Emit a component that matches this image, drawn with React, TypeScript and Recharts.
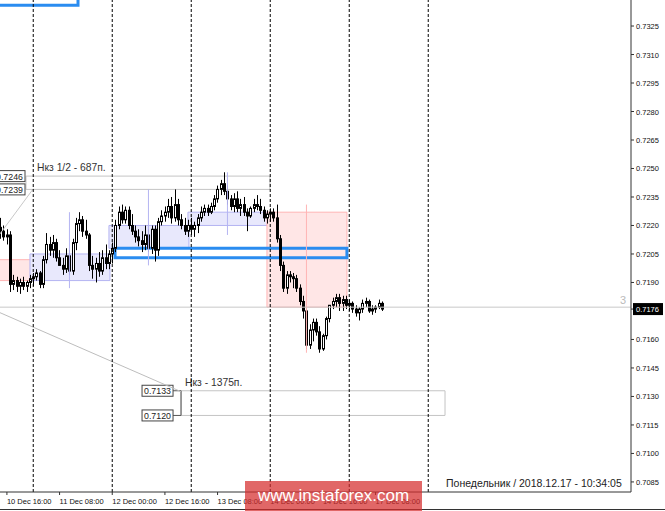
import React from 'react';
import { ComposedChart, Bar, XAxis, YAxis, ReferenceArea, ReferenceLine } from 'recharts';

// AUDUSD H1, bar 0 = 10 Dec 14:00, last bar = 17 Dec 10:00 (weekend skipped)
const opens = [
  0.7219, 0.7217, 0.7214, 0.7215, 0.7189, 0.7191, 0.7188, 0.7190, 0.7188, 0.7190,
  0.7192, 0.7193, 0.7195, 0.7189, 0.7202, 0.7210, 0.7207, 0.7211, 0.7203, 0.7199,
  0.7197, 0.7204, 0.7196, 0.7211, 0.7221, 0.7223, 0.7217, 0.7215, 0.7199, 0.7197,
  0.7200, 0.7196, 0.7203, 0.7200,
  0.7205, 0.7208, 0.7220, 0.7227, 0.7223, 0.7228, 0.7220, 0.7217, 0.7214, 0.7212,
  0.7210, 0.7215, 0.7208, 0.7218, 0.7207, 0.7222, 0.7225, 0.7227, 0.7230, 0.7224,
  0.7231, 0.7223, 0.7220, 0.7217,
  0.7220, 0.7218, 0.7220, 0.7224, 0.7227, 0.7229, 0.7227, 0.7230, 0.7234, 0.7239,
  0.7242, 0.7238, 0.7234, 0.7230, 0.7234, 0.7229, 0.7231, 0.7227, 0.7225, 0.7229,
  0.7231, 0.7230, 0.7228, 0.7224,
  0.7226, 0.7227, 0.7224, 0.7213, 0.7199, 0.7187, 0.7194, 0.7193, 0.7192, 0.7187,
  0.7180, 0.7175, 0.7157, 0.7165, 0.7169, 0.7164, 0.7155, 0.7162, 0.7171, 0.7178,
  0.7180, 0.7182, 0.7179, 0.7181,
  0.7178, 0.7179, 0.7176, 0.7174, 0.7176, 0.7179, 0.7180, 0.7175, 0.7176, 0.7177, 0.7179,
];
const highs = [
  0.7224, 0.7220, 0.7218, 0.7217, 0.7194, 0.7193, 0.7192, 0.7193, 0.7191, 0.7194,
  0.7195, 0.7197, 0.7196, 0.7204, 0.7216, 0.7214, 0.7215, 0.7213, 0.7207, 0.7203,
  0.7208, 0.7207, 0.7213, 0.7224, 0.7227, 0.7225, 0.7223, 0.7216, 0.7204, 0.7203,
  0.7206, 0.7207, 0.7210, 0.7207,
  0.7211, 0.7223, 0.7230, 0.7231, 0.7230, 0.7230, 0.7226, 0.7220, 0.7218, 0.7217,
  0.7220, 0.7218, 0.7220, 0.7220, 0.7224, 0.7228, 0.7230, 0.7234, 0.7235, 0.7239,
  0.7234, 0.7226, 0.7224, 0.7223,
  0.7224, 0.7222, 0.7226, 0.7230, 0.7231, 0.7231, 0.7232, 0.7236, 0.7241, 0.7244,
  0.7248, 0.7241, 0.7236, 0.7237, 0.7238, 0.7234, 0.7235, 0.7229, 0.7230, 0.7234,
  0.7236, 0.7234, 0.7230, 0.7228,
  0.7229, 0.7229, 0.7231, 0.7215, 0.7201, 0.7196, 0.7196, 0.7195, 0.7194, 0.7189,
  0.7183, 0.7177, 0.7168, 0.7171, 0.7171, 0.7167, 0.7163, 0.7172, 0.7178, 0.7182,
  0.7184, 0.7184, 0.7183, 0.7183,
  0.7181, 0.7180, 0.7178, 0.7177, 0.7181, 0.7182, 0.7181, 0.7178, 0.7178, 0.7181, 0.7180,
];
const lows = [
  0.7213, 0.7212, 0.7210, 0.7185, 0.7186, 0.7185, 0.7184, 0.7186, 0.7185, 0.7187,
  0.7188, 0.7191, 0.7187, 0.7187, 0.7200, 0.7204, 0.7203, 0.7201, 0.7199, 0.7194,
  0.7195, 0.7194, 0.7194, 0.7207, 0.7217, 0.7214, 0.7213, 0.7196, 0.7192, 0.7190,
  0.7193, 0.7194, 0.7197, 0.7197,
  0.7200, 0.7206, 0.7218, 0.7221, 0.7221, 0.7218, 0.7215, 0.7211, 0.7209, 0.7206,
  0.7207, 0.7206, 0.7205, 0.7201, 0.7204, 0.7220, 0.7222, 0.7224, 0.7221, 0.7222,
  0.7220, 0.7218, 0.7215, 0.7214,
  0.7215, 0.7214, 0.7216, 0.7222, 0.7225, 0.7225, 0.7226, 0.7228, 0.7232, 0.7236,
  0.7236, 0.7231, 0.7228, 0.7227, 0.7227, 0.7225, 0.7225, 0.7217, 0.7224, 0.7227,
  0.7228, 0.7226, 0.7222, 0.7221,
  0.7222, 0.7222, 0.7211, 0.7196, 0.7185, 0.7184, 0.7190, 0.7187, 0.7185, 0.7178,
  0.7171, 0.7155, 0.7155, 0.7159, 0.7162, 0.7153, 0.7154, 0.7160, 0.7169, 0.7176,
  0.7177, 0.7175, 0.7175, 0.7176,
  0.7175, 0.7174, 0.7172, 0.7170, 0.7174, 0.7177, 0.7174, 0.7173, 0.7174, 0.7176, 0.7175,
];
const closes = [
  0.7217, 0.7214, 0.7215, 0.7189, 0.7191, 0.7188, 0.7190, 0.7188, 0.7190, 0.7192,
  0.7193, 0.7195, 0.7189, 0.7202, 0.7210, 0.7207, 0.7211, 0.7203, 0.7199, 0.7197,
  0.7204, 0.7196, 0.7211, 0.7221, 0.7223, 0.7217, 0.7215, 0.7199, 0.7197, 0.7200,
  0.7196, 0.7203, 0.7200, 0.7205,
  0.7208, 0.7220, 0.7227, 0.7223, 0.7228, 0.7220, 0.7217, 0.7214, 0.7212, 0.7210,
  0.7215, 0.7208, 0.7218, 0.7207, 0.7222, 0.7225, 0.7227, 0.7230, 0.7224, 0.7231,
  0.7223, 0.7220, 0.7217, 0.7220,
  0.7218, 0.7220, 0.7224, 0.7227, 0.7229, 0.7227, 0.7230, 0.7234, 0.7239, 0.7242,
  0.7238, 0.7234, 0.7230, 0.7234, 0.7229, 0.7231, 0.7227, 0.7225, 0.7229, 0.7231,
  0.7230, 0.7228, 0.7224, 0.7226,
  0.7227, 0.7224, 0.7213, 0.7199, 0.7187, 0.7194, 0.7193, 0.7192, 0.7187, 0.7180,
  0.7175, 0.7157, 0.7165, 0.7169, 0.7164, 0.7155, 0.7162, 0.7171, 0.7178, 0.7180,
  0.7182, 0.7179, 0.7181, 0.7178,
  0.7179, 0.7176, 0.7174, 0.7176, 0.7179, 0.7180, 0.7175, 0.7176, 0.7177, 0.7179, 0.7176,
];

// daily candles drawn behind the hourly ones (first bar index of each day)
const dayStart = [-14, 10, 34, 58, 82];
const dayOpen = [0.7202, 0.7191, 0.7208, 0.7220, 0.7227];
const dayHigh = [0.7226, 0.7227, 0.7239, 0.7248, 0.7231];
const dayLow = [0.7184, 0.7187, 0.7199, 0.7215, 0.7153];
const dayClose = [0.7191, 0.7205, 0.7220, 0.7227, 0.7177];

const separators = [10, 34, 58, 82, 106, 130];
const xTickIdx = [2, 18, 34, 50, 66, 82, 98, 114];
const xTickLabels = ['10 Dec 16:00', '11 Dec 08:00', '12 Dec 00:00', '12 Dec 16:00', '13 Dec 08:00', '14 Dec 00:00', '14 Dec 16:00', '17 Dec 08:00'];
const yTicks = [0.7085, 0.71, 0.7115, 0.713, 0.7145, 0.716, 0.7176, 0.719, 0.7205, 0.722, 0.7235, 0.725, 0.7265, 0.728, 0.7295, 0.731, 0.7325];
const lastPrice = 0.7176;

const data = opens.map((o, i) => ({
  i,
  open: o,
  high: highs[i],
  low: lows[i],
  close: closes[i],
  range: [lows[i], highs[i]],
}));

const FONT = '"Liberation Sans", Arial, sans-serif';

const Candle = (props: any) => {
  const { x, y, width, height, payload } = props;
  if (payload == null || height == null) return null;
  const { open, close, high, low } = payload;
  const top = Math.min(y, y + height);
  const h = Math.abs(height);
  const k = h / (high - low);
  const cx = Math.round(x + width / 2) + 0.5;
  const yO = top + (high - open) * k;
  const yC = top + (high - close) * k;
  const bTop = Math.min(yO, yC);
  const bH = Math.max(Math.abs(yO - yC), 1);
  const up = close >= open;
  return (
    <g>
      <line x1={cx} x2={cx} y1={top} y2={top + h} stroke="#000" strokeWidth={1} />
      <rect x={cx - 1} y={bTop} width={2} height={bH} fill={up ? '#fff' : '#000'} stroke="#000" strokeWidth={1} />
    </g>
  );
};

const XTick = (props: any) => {
  const { x, y, payload } = props;
  const k = xTickIdx.indexOf(payload.value);
  return (
    <text x={x} y={y + 7} textAnchor="start" fontSize={7.5} fontFamily={FONT} fill="#111">
      {k >= 0 ? xTickLabels[k] : ''}
    </text>
  );
};

const YTick = (props: any) => {
  const { x, y, payload } = props;
  const v = payload.value;
  if (Math.abs(v - lastPrice) < 1e-7) {
    return (
      <g>
        <rect x={633} y={y - 6} width={30} height={12} fill="#000" />
        <text x={636} y={y + 3} fontSize={7.5} fontFamily={FONT} fill="#fff">{v.toFixed(4)}</text>
      </g>
    );
  }
  return (
    <text x={x} y={y + 3} textAnchor="start" fontSize={7.5} fontFamily={FONT} fill="#111">
      {v.toFixed(4)}
    </text>
  );
};

const PriceTag = ({ x, y, text }: { x: number; y: number; text: string }) => (
  <g>
    <rect x={x} y={y - 5.5} width={31} height={11} fill="#fff" stroke="#444" strokeWidth={1} />
    <text x={x + 2} y={y + 3.5} fontSize={8.8} fontFamily={FONT} fill="#222">{text}</text>
  </g>
);

const upperZoneLabel = (props: any) => {
  const { x, y, height } = props.viewBox;
  return (
    <g>
      <text x={x + 11} y={y - 5} fontSize={10.3} fontFamily={FONT} fill="#333">Нкз 1/2 - 687п.</text>
      <PriceTag x={x - 32} y={y} text="0.7246" />
      <PriceTag x={x - 32} y={y + height} text="0.7239" />
    </g>
  );
};

const lowerZoneLabel = (props: any) => {
  const { x, y, height } = props.viewBox;
  return (
    <g>
      <text x={x + 4} y={y - 5} fontSize={10.3} fontFamily={FONT} fill="#333">Нкз - 1375п.</text>
      <line x1={x - 8} x2={x} y1={y} y2={y} stroke="#555" />
      <line x1={x - 8} x2={x} y1={y + height} y2={y + height} stroke="#555" />
      <line x1={x} x2={x} y1={y} y2={y + height} stroke="#555" />
      <PriceTag x={x - 39} y={y} text="0.7133" />
      <PriceTag x={x - 39} y={y + height} text="0.7120" />
    </g>
  );
};

const levelLabel = (props: any) => {
  const { y } = props.viewBox;
  return (
    <text x={620} y={y - 3} fontSize={11} fontFamily={FONT} fill="#bbb">3</text>
  );
};

export default function App() {
  return (
    <div style={{ position: 'absolute', left: 0, top: 0, width: 665, height: 511, background: '#fff', overflow: 'hidden' }}>
      <ComposedChart width={665} height={511} data={data} margin={{ top: 0, right: 0, bottom: 0, left: 0 }}>
        <XAxis
          dataKey="i"
          type="number"
          domain={[-0.1, 191.6]}
          allowDataOverflow
          ticks={xTickIdx}
          interval={0}
          tick={(p: any) => <XTick {...p} />}
          tickSize={3}
          tickMargin={2}
          height={19}
          axisLine={{ stroke: '#333' }}
          tickLine={{ stroke: '#333' }}
        />
        <YAxis
          orientation="right"
          type="number"
          width={34}
          domain={[0.70797, 0.73387]}
          allowDataOverflow
          ticks={yTicks}
          interval={0}
          tick={(p: any) => <YTick {...p} />}
          tickSize={3}
          tickMargin={2}
          axisLine={{ stroke: '#333' }}
          tickLine={{ stroke: '#333' }}
        />

        {dayStart.map((s, k) => {
          const up = dayClose[k] >= dayOpen[k];
          return (
            <ReferenceArea
              key={'body' + k}
              x1={s - 1}
              x2={s + 23.3}
              y1={Math.min(dayOpen[k], dayClose[k])}
              y2={Math.max(dayOpen[k], dayClose[k])}
              fill={up ? '#e8e8fc' : '#ffe6e6'}
              fillOpacity={1}
              stroke={up ? '#b4b4f2' : '#ffb4b4'}
              ifOverflow="hidden"
            />
          );
        })}
        {dayStart.map((s, k) => {
          const up = dayClose[k] >= dayOpen[k];
          return (
            <ReferenceLine
              key={'wick' + k}
              segment={[{ x: s + 11, y: dayLow[k] }, { x: s + 11, y: dayHigh[k] }]}
              stroke={up ? '#b4b4f2' : '#ffb4b4'}
              ifOverflow="hidden"
            />
          );
        })}

        <ReferenceArea x1={7.8} x2={81.9} y1={0.7239} y2={0.7246} fill="none" stroke="#c4c4c4" ifOverflow="visible" label={upperZoneLabel} />
        <ReferenceArea x1={54.9} x2={135.1} y1={0.712} y2={0.7133} fill="none" stroke="#c4c4c4" ifOverflow="visible" label={lowerZoneLabel} />

        <ReferenceLine segment={[{ x: -0.1, y: 0.72156 }, { x: 10, y: 0.72393 }]} stroke="#c8c8c8" ifOverflow="hidden" />
        <ReferenceLine segment={[{ x: -0.1, y: 0.71741 }, { x: 54.9, y: 0.71325 }]} stroke="#bdbdbd" ifOverflow="hidden" />
        <ReferenceLine y={0.7177} stroke="#c8c8c8" label={levelLabel} />

        {separators.map((s) => (
          <ReferenceLine key={'sep' + s} x={s} stroke="#000" strokeDasharray="3 2" />
        ))}

        <ReferenceArea x1={-10} x2={23.6} y1={0.7336} y2={0.7352} fill="none" stroke="#2a8cf0" strokeWidth={3} ifOverflow="hidden" />
        <ReferenceArea x1={34.85} x2={105.3} y1={0.7203} y2={0.7208} fill="none" stroke="#2a8cf0" strokeWidth={3} ifOverflow="hidden" />

        <Bar dataKey="range" barSize={3} shape={(p: any) => <Candle {...p} />} isAnimationActive={false} />
      </ComposedChart>

      <div style={{ position: 'absolute', left: 446, top: 477, fontSize: 10.5, fontFamily: FONT, color: '#222', whiteSpace: 'nowrap' }}>
        Понедельник / 2018.12.17 - 10:34:05
      </div>
      <div style={{ position: 'absolute', left: 0, top: 509, width: 665, height: 1, background: '#333' }} />
      <div
        style={{
          position: 'absolute', left: 245, top: 481, width: 177, height: 30,
          background: 'rgba(214,44,44,0.72)', color: '#fff', fontFamily: FONT,
          fontSize: 17, lineHeight: '30px', textAlign: 'center', whiteSpace: 'nowrap',
        }}
      >
        www.instaforex.com
      </div>
    </div>
  );
}
